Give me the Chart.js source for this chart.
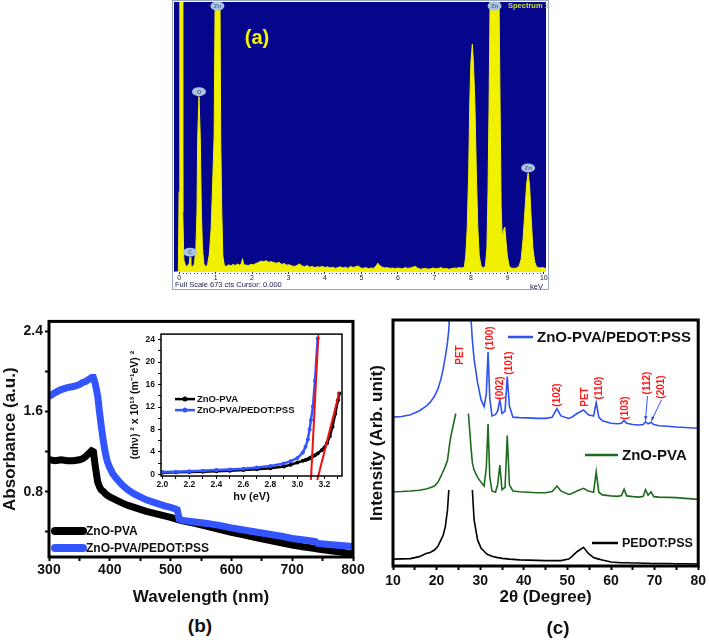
<!DOCTYPE html>
<html>
<head>
<meta charset="utf-8">
<script src="https://cdn.jsdelivr.net/npm/chart.js@4.4.1/dist/chart.umd.min.js"></script>
<style>
html,body{margin:0;padding:0;background:#fff;}
body{width:709px;height:640px;position:relative;overflow:hidden;font-family:"Liberation Sans",Arial,sans-serif;}
canvas{position:absolute;}
.plab{position:absolute;font-weight:bold;font-size:19px;color:#111;transform:translate(-50%,-50%);white-space:nowrap;}
</style>
</head>
<body>
<canvas id="cA" width="378" height="291" style="left:172px;top:0px"></canvas>
<canvas id="cB" width="368" height="300" style="left:0px;top:311px"></canvas>
<canvas id="cC" width="349" height="300" style="left:360px;top:311px"></canvas>
<canvas id="cI" width="225" height="180" style="left:127px;top:326px"></canvas>
<div class="plab" style="left:200px;top:626px">(b)</div>
<div class="plab" style="left:558px;top:628px">(c)</div>
<script>
// ================= DATA =================
// (a) EDX spectrum: energy (keV) and counts
const edxEnergy = [
  -0.14,-0.05,-0.02,0.00,0.02,0.08,0.10,0.13,0.17,0.21,
  0.25,0.28,0.30,0.32,0.36,0.42,0.46,0.49,0.51,0.545,
  0.58,0.61,0.64,0.68,0.73,0.78,0.83,0.88,0.92,0.96,
  0.99,1.12,1.14,1.17,1.20,1.24,1.30,1.36,1.42,1.48,
  1.54,1.60,1.66,1.71,1.74,1.77,1.83,1.90,1.97,2.04,
  2.11,2.18,2.25,2.32,2.39,2.46,2.53,2.60,2.67,2.74,
  2.81,2.88,2.95,3.02,3.09,3.16,3.23,3.30,3.37,3.44,
  3.51,3.58,3.65,3.72,3.79,3.86,3.93,4.00,4.07,4.14,
  4.21,4.28,4.35,4.42,4.49,4.56,4.63,4.70,4.77,4.84,
  4.91,4.98,5.05,5.12,5.19,5.26,5.33,5.40,5.45,5.50,
  5.57,5.64,5.71,5.78,5.85,5.92,5.99,6.06,6.13,6.20,
  6.27,6.34,6.41,6.48,6.55,6.62,6.69,6.76,6.83,6.90,
  6.97,7.04,7.11,7.18,7.25,7.32,7.39,7.46,7.53,7.60,
  7.67,7.74,7.82,7.86,7.90,7.94,7.97,8.00,8.04,8.07,
  8.11,8.15,8.19,8.23,8.28,8.34,8.40,8.44,8.47,8.50,
  8.53,8.77,8.80,8.83,8.86,8.90,8.93,8.96,9.00,9.05,
  9.10,9.18,9.25,9.32,9.38,9.43,9.48,9.53,9.57,9.61,
  9.65,9.70,9.75,9.80,9.88,9.96,10.06
];
const edxCounts = [
  0,0,4,200,700,700,150,30,18,14,
  17,22,37,15,12,20,60,150,337,437,
  337,150,60,20,13,18,45,110,222,337,
  700,700,337,150,40,16,14,18,15,19,
  16,20,17,22,33,19,17,16,19,18,
  21,24,27,26,28,24,26,23,22,24,
  19,21,17,18,15,14,16,20,15,13,
  16,12,14,11,13,12,14,11,13,10,
  12,9,11,13,10,12,9,14,11,13,
  15,10,9,11,8,10,9,15,22,16,
  12,10,11,9,10,8,10,9,8,11,
  9,10,12,14,9,7,8,9,7,8,
  10,8,9,11,8,9,7,8,10,9,
  11,10,12,40,110,250,421,521,568,521,
  421,250,110,40,15,10,15,60,200,421,
  700,700,421,160,85,105,112,80,40,15,
  10,9,10,14,32,80,150,220,247,215,
  140,60,25,13,10,11,9
];
const edxFullScale = 673;
const edxPeakLabels = ['Zn','O','C','Zn','Zn'];
const edxPeakEnergy = [1.05, 0.545, 0.30, 8.65, 9.57];
const edxPeakCounts = [700, 437, 37, 700, 247];

// (b) UV-vis absorbance
const wavelength = [
  300,310,320,330,340,350,355,360,365,370,
  373,376,380,383,386,390,393,396,400,405,
  410,420,430,440,450,460,470,480,490,500,
  508,511,514,520,540,560,580,600,620,640,
  660,680,700,720,738,742,760,780,800
];
const absZnoPva = [
  1.12,1.11,1.12,1.11,1.11,1.12,1.13,1.15,1.18,1.21,
  1.20,1.06,0.90,0.85,0.82,0.80,0.78,0.765,0.75,0.735,
  0.72,0.69,0.665,0.645,0.625,0.605,0.59,0.575,0.56,0.545,
  0.53,0.525,0.52,0.51,0.485,0.455,0.425,0.395,0.37,0.345,
  0.32,0.295,0.27,0.25,0.235,0.23,0.215,0.20,0.18
];
const absZnoPvaPedot = [
  1.75,1.79,1.82,1.84,1.85,1.87,1.89,1.90,1.92,1.94,
  1.94,1.88,1.76,1.60,1.45,1.28,1.18,1.10,1.04,0.98,
  0.94,0.87,0.82,0.78,0.75,0.72,0.70,0.68,0.66,0.645,
  0.63,0.62,0.53,0.515,0.50,0.485,0.465,0.44,0.42,0.40,
  0.38,0.36,0.335,0.32,0.305,0.285,0.275,0.265,0.255
];
const seriesNamesB = ['ZnO-PVA','ZnO-PVA/PEDOT:PSS'];

// (b) inset Tauc plot
const photonEnergy = [
  2.00,2.10,2.20,2.30,2.40,2.50,2.60,2.70,2.80,2.90,
  2.95,3.00,3.04,3.06,3.077,3.09,3.10,3.115,3.13,3.15,
  3.18,3.20,3.22,3.24,3.26,3.28,3.30,3.31
];
const taucZnoPva = [
  0.3,0.35,0.4,0.47,0.55,0.65,0.75,0.9,1.1,1.4,
  1.7,2.1,2.4,2.55,2.7,2.85,3.0,3.2,3.4,3.7,
  4.3,4.8,5.6,6.8,8.5,10.8,13.2,14.4
];
const taucZnoPvaPedot = [
  0.4,0.47,0.55,0.65,0.75,0.87,1.0,1.2,1.5,1.95,
  2.35,2.9,3.9,4.9,6.2,8.0,9.7,12.1,16.7,24.2,
  null,null,null,null,null,null,null,null
];
const fitPedotX = [3.10, 3.155];
const fitPedotY = [-1.0, 24.8];
const fitZnoX = [3.147, 3.31];
const fitZnoY = [-1.0, 14.6];

// (c) XRD patterns
const twoTheta = [
  10,12,14,16,17.6,18.5,19.5,20.3,21,21.5,
  22,22.5,22.8,22.9,23.3,24.4,25.5,27.3,27.9,28.2,
  28.6,29.4,30.2,30.9,31.4,31.8,32.2,32.7,33.5,34.0,
  34.5,35.0,35.7,36.2,36.7,37.5,39,41,43,45,
  46.5,47.6,48.5,50.3,51,52.2,53.7,54.8,56.0,56.6,
  57.2,58,60,61.5,62.4,63,63.6,65,66.5,67.4,
  67.9,68.5,69.2,69.8,71,73,75,77,80
];
const xrdComposite = [
  60.5,60.8,61.5,63,65,66.5,69,72,76,80,
  85,91,96,100,null,null,null,null,100,92,
  84,74.5,67.5,64.8,70,87,68,61,61.5,63,
  67.5,62,63,77,65,60.5,60.3,60.2,60,60,
  60.5,64,61,60,60.5,62,63.4,61.5,61,66.4,
  60.5,59,58,57.8,58,59.2,58,57.5,57.3,57.5,
  58.6,57.8,58.4,57.5,57,56.8,56.5,56.3,56
];
const xrdZnoPva = [
  30.2,30.3,30.5,30.8,31.3,31.8,32.5,34,36.5,38.5,
  40.5,43,47,48.5,53,62,null,62,48,42,
  39,36,34,32.5,40,57.7,36,30.5,30,33,
  41,31,32,53,33,30.5,30.2,30,29.8,29.8,
  30.3,32.5,30.5,29.1,29.5,30.5,31.6,30.5,30,38.3,
  30,28.9,28.5,28.3,28.6,31.2,28.5,28.2,28,28.3,
  31,28.8,30.1,28.2,28,27.9,27.8,27.5,27.1
];
const xrdPedot = [
  2.8,2.9,3.0,3.8,5.1,5.5,6.5,8,10.6,12.5,
  16,22.8,30.9,null,null,null,null,null,null,30.9,
  18.7,10.6,7.2,6,5,4.6,4.4,4,3.6,3.4,
  3.3,3.1,3,2.9,2.8,2.7,2.5,2.4,2.3,2.2,
  2.2,2.2,2.2,2.8,3.8,5.8,7.6,5.1,3.4,3.1,
  2.8,2.4,1.6,1.4,1.3,1.3,1.3,1.2,1.2,1.1,
  1.1,1.1,1.0,1.0,1.0,1.0,0.9,0.9,0.8
];
const seriesNamesC = ['ZnO-PVA/PEDOT:PSS','ZnO-PVA','PEDOT:PSS'];
const hklLabels = ['PET','(100)','(002)','(101)','(102)','PET','(110)','(103)','(112)','(201)'];
const hklPeaks  = [25.5, 31.8, 34.5, 36.2, 47.6, 53.7, 56.6, 63.0, 67.9, 69.2];

// ================= CHARTS =================
const FF = '"Liberation Sans", Arial, sans-serif';
Chart.defaults.font.family = FF;
Chart.defaults.color = '#000';
Chart.defaults.animation = false;
const pts = (xs, ys) => xs.map((v,i)=>({x:v, y:ys[i]}));

// ---------- (a) ----------
const edxPlugin = {
  id:'edx',
  beforeDraw(chart){
    const {ctx, chartArea:a, width, height} = chart;
    ctx.save();
    ctx.fillStyle='#fff'; ctx.fillRect(0,0,width,height);
    ctx.fillStyle='#06068c'; ctx.fillRect(a.left,a.top,a.right-a.left,a.bottom-a.top);
    ctx.restore();
  },
  afterDraw(chart){
    const {ctx, chartArea:a, width, height, scales:{x,y}} = chart;
    ctx.save();
    ctx.fillStyle='#404060';
    for(let i=0;i<=100;i++){
      const px = Math.round(x.getPixelForValue(i/10));
      if (i%10) ctx.fillRect(px, a.bottom+1, 1, 1);
    }
    edxPeakLabels.forEach((t,i)=>{
      const px = x.getPixelForValue(edxPeakEnergy[i]);
      const py = Math.max(a.top+4, y.getPixelForValue(edxPeakCounts[i]) - 5);
      ctx.beginPath(); ctx.ellipse(px, py, 7, 4.5, 0, 0, Math.PI*2);
      ctx.fillStyle='#a9c3e3'; ctx.fill();
      ctx.fillStyle='#5a6e98'; ctx.font='bold 6px '+FF;
      ctx.textAlign='center'; ctx.textBaseline='middle';
      ctx.fillText(t, px, py+0.5);
    });
    ctx.fillStyle='#f4f400'; ctx.font='bold 20px '+FF;
    ctx.textAlign='center'; ctx.textBaseline='middle';
    ctx.fillText('(a)', 85, 38);
    ctx.fillStyle='#c8e03c'; ctx.font='bold 7.5px '+FF; ctx.textAlign='left';
    ctx.fillText('Spectrum 1', 336, 6);
    ctx.fillStyle='#202050'; ctx.font='7.5px '+FF;
    ctx.fillText('Full Scale '+edxFullScale+' cts Cursor: 0.000', 3, 285);
    ctx.textAlign='right'; ctx.fillText('keV', 371, 286.5);
    ctx.strokeStyle='#9aa6c8'; ctx.lineWidth=1;
    ctx.strokeRect(0.5,0.5,width-2,height-2);
    ctx.restore();
  }
};
new Chart(document.getElementById('cA'), {
  type:'line',
  data:{datasets:[{data:pts(edxEnergy, edxCounts), borderColor:'#f0f000', backgroundColor:'#f0f000',
    borderWidth:1, fill:'origin', pointRadius:0, tension:0}]},
  options:{
    responsive:false, animation:false,
    layout:{padding:{left:2,right:4,top:2,bottom:0}},
    plugins:{legend:{display:false}, tooltip:{enabled:false}},
    scales:{
      x:{type:'linear', min:-0.14, max:10.06, afterFit:s=>{s.height=19;},
        ticks:{stepSize:1, includeBounds:false, autoSkip:false, maxRotation:0,
          font:{size:7}, color:'#202040', padding:0, callback:v=>String(Math.round(v))},
        grid:{display:true, drawOnChartArea:false, drawTicks:true, tickLength:2, color:'#303050', tickWidth:1},
        border:{display:false}},
      y:{display:false, min:0, max:edxFullScale}
    }
  },
  plugins:[edxPlugin]
});

// ---------- (b) ----------
const frameB = {
  id:'frameB',
  afterDraw(chart){
    const {ctx, chartArea:a} = chart;
    ctx.save();
    ctx.strokeStyle='#000'; ctx.lineWidth=3;
    ctx.strokeRect(a.left, a.top, a.right-a.left, a.bottom-a.top);
    const ds = chart.data.datasets;
    [0,1].forEach((k,i)=>{
      const yy = a.bottom - 26 + i*17;
      ctx.strokeStyle = ds[k].borderColor; ctx.lineWidth = 8; ctx.lineCap='round';
      ctx.beginPath(); ctx.moveTo(a.left+6, yy); ctx.lineTo(a.left+34, yy); ctx.stroke();
      ctx.fillStyle='#111'; ctx.font='bold 12px '+FF; ctx.textAlign='left'; ctx.textBaseline='middle';
      ctx.fillText(ds[k].label, a.left+37, yy+0.5);
    });
    ctx.restore();
  }
};
new Chart(document.getElementById('cB'), {
  type:'line',
  data:{datasets:[
    {label:seriesNamesB[0], data:pts(wavelength, absZnoPva), borderColor:'#000', borderWidth:7,
      pointRadius:0, tension:0, order:1},
    {label:seriesNamesB[1], data:pts(wavelength, absZnoPvaPedot), borderColor:'#3355ff', borderWidth:7,
      pointRadius:0, tension:0, order:0}
  ]},
  options:{
    responsive:false, animation:false,
    layout:{padding:{left:0,right:15,top:10,bottom:0}},
    plugins:{legend:{display:false}, tooltip:{enabled:false}},
    scales:{
      x:{type:'linear', min:300, max:800, afterFit:s=>{s.height=54;},
        ticks:{stepSize:50, includeBounds:false, autoSkip:false, maxRotation:0, padding:1,
          font:{size:14, weight:'bold'}, color:'#111', callback:v=>(v%100===0? String(v):'')},
        grid:{drawOnChartArea:false, drawTicks:true, tickLength:4, tickWidth:2, color:'#000'},
        border:{display:false},
        title:{display:true, text:'Wavelength (nm)', font:{size:17, weight:'bold'}, color:'#111', padding:{top:0,bottom:3}}},
      y:{type:'linear', min:0.15, max:2.5, afterFit:s=>{s.width=49;},
        ticks:{stepSize:0.4, includeBounds:false, autoSkip:false, padding:2,
          font:{size:14, weight:'bold'}, color:'#111',
          callback:v=>(Math.abs(v/0.8-Math.round(v/0.8))<1e-6 ? v.toFixed(1):'')},
        grid:{drawOnChartArea:false, drawTicks:true, tickLength:4, tickWidth:2, color:'#000'},
        border:{display:false},
        title:{display:true, text:'Absorbance (a.u.)', font:{size:17, weight:'bold'}, color:'#111', padding:{top:0,bottom:0}}}
    }
  },
  plugins:[frameB]
});

// ---------- (b) inset ----------
const frameI = {
  id:'frameI',
  afterDraw(chart){
    const {ctx, chartArea:a} = chart;
    ctx.save();
    ctx.strokeStyle='#000'; ctx.lineWidth=1.5;
    ctx.strokeRect(a.left, a.top, a.right-a.left, a.bottom-a.top);
    const ds = chart.data.datasets;
    [0,1].forEach((k,i)=>{
      const yy = a.top + 65 + i*11;
      ctx.strokeStyle = ds[k].borderColor; ctx.lineWidth = 2.5;
      ctx.beginPath(); ctx.moveTo(a.left+14, yy); ctx.lineTo(a.left+34, yy); ctx.stroke();
      ctx.fillStyle = ds[k].borderColor;
      ctx.beginPath(); ctx.arc(a.left+24, yy, 2.5, 0, Math.PI*2); ctx.fill();
      ctx.fillStyle='#111'; ctx.font='bold 9.5px '+FF; ctx.textAlign='left'; ctx.textBaseline='middle';
      ctx.fillText(ds[k].label, a.left+36, yy+0.5);
    });
    ctx.restore();
  }
};
new Chart(document.getElementById('cI'), {
  type:'line',
  data:{datasets:[
    {label:seriesNamesB[0], data:pts(photonEnergy, taucZnoPva), borderColor:'#000', backgroundColor:'#000',
      borderWidth:2.5, pointRadius:2, pointBorderWidth:0, tension:0, order:3},
    {label:seriesNamesB[1], data:pts(photonEnergy, taucZnoPvaPedot), borderColor:'#3355ff', backgroundColor:'#3355ff',
      borderWidth:2.5, pointRadius:2, pointBorderWidth:0, tension:0, order:2},
    {label:'fit1', data:pts(fitPedotX, fitPedotY), borderColor:'#ee1111', borderWidth:2, pointRadius:0, clip:false, order:0},
    {label:'fit2', data:pts(fitZnoX, fitZnoY), borderColor:'#ee1111', borderWidth:2, pointRadius:0, clip:false, order:1}
  ]},
  options:{
    responsive:false, animation:false,
    layout:{padding:{left:0,right:10,top:8,bottom:0}},
    plugins:{legend:{display:false}, tooltip:{enabled:false}},
    scales:{
      x:{type:'linear', min:1.99, max:3.33, afterFit:s=>{s.height=30;},
        ticks:{stepSize:0.1, includeBounds:false, autoSkip:false, maxRotation:0, padding:1,
          font:{size:8.5, weight:'bold'}, color:'#111',
          callback:v=>(Math.round(v*10)%2===0 ? v.toFixed(1):'')},
        grid:{drawOnChartArea:false, drawTicks:true, tickLength:3, tickWidth:1, color:'#000'},
        border:{display:false},
        title:{display:true, text:'hν (eV)', font:{size:11, weight:'bold'}, color:'#111', padding:{top:0,bottom:2}}},
      y:{type:'linear', min:-0.3, max:25, afterFit:s=>{s.width=34;},
        ticks:{stepSize:2, includeBounds:false, autoSkip:false, padding:3,
          font:{size:8.5, weight:'bold'}, color:'#111',
          callback:v=>(Math.round(v)%4===0 ? String(Math.round(v)):'')},
        grid:{drawOnChartArea:false, drawTicks:true, tickLength:3, tickWidth:1, color:'#000'},
        border:{display:false},
        title:{display:true, text:'(αhν) ² x 10¹³ (m⁻¹eV) ²', font:{size:10.5, weight:'bold'}, color:'#111', padding:{top:2,bottom:0}}}
    }
  },
  plugins:[frameI]
});

// ---------- (c) ----------
const hklLayout = { // label centre offsets in px relative to peak x, and label centre y (px from chart top)
  dx:[0, 2.6, 0, 1.8, 0.8, 1.7, 3, 1, 2, 10.3],
  yc:[35, 18, 68, 43, 75, 77, 68, 88, 63, 67]
};
const frameC = {
  id:'frameC',
  afterDraw(chart){
    const {ctx, chartArea:a, scales:{x,y}} = chart;
    ctx.save();
    ctx.strokeStyle='#000'; ctx.lineWidth=3;
    ctx.strokeRect(a.left, a.top, a.right-a.left, a.bottom-a.top);
    ctx.fillStyle='#ff1a1a'; ctx.font='bold 10px '+FF; ctx.textAlign='center'; ctx.textBaseline='middle';
    hklLabels.forEach((t,i)=>{
      const px = x.getPixelForValue(hklPeaks[i]) + hklLayout.dx[i];
      const py = a.top + hklLayout.yc[i];
      ctx.save(); ctx.translate(px, py); ctx.rotate(-Math.PI/2); ctx.fillText(t, 0, 0); ctx.restore();
    });
    ctx.strokeStyle='#2f52f0'; ctx.fillStyle='#2f52f0'; ctx.lineWidth=1;
    [8,9].forEach(i=>{
      const sx = x.getPixelForValue(hklPeaks[i]) + hklLayout.dx[i];
      const sy = a.top + hklLayout.yc[i] + 13;
      const idx = twoTheta.indexOf(hklPeaks[i]);
      const ex = x.getPixelForValue(hklPeaks[i]);
      const ey = y.getPixelForValue(xrdComposite[idx]) - 1;
      ctx.beginPath(); ctx.moveTo(sx, sy); ctx.lineTo(ex, ey); ctx.stroke();
      const ang = Math.atan2(ey-sy, ex-sx);
      ctx.beginPath(); ctx.moveTo(ex, ey);
      ctx.lineTo(ex - 5*Math.cos(ang-0.35), ey - 5*Math.sin(ang-0.35));
      ctx.lineTo(ex - 5*Math.cos(ang+0.35), ey - 5*Math.sin(ang+0.35));
      ctx.closePath(); ctx.fill();
    });
    const ds = chart.data.datasets;
    const L = [
      {k:0, x0:148, x1:173, y:26, tx:177, fs:15},
      {k:1, x0:225, x1:258, y:144, tx:262, fs:15},
      {k:2, x0:232, x1:258, y:232, tx:262, fs:12.5}
    ];
    L.forEach(o=>{
      ctx.strokeStyle = ds[o.k].borderColor; ctx.lineWidth=2.5;
      ctx.beginPath(); ctx.moveTo(o.x0, o.y); ctx.lineTo(o.x1, o.y); ctx.stroke();
      ctx.fillStyle='#111'; ctx.font='bold '+o.fs+'px '+FF; ctx.textAlign='left'; ctx.textBaseline='middle';
      ctx.fillText(ds[o.k].label, o.tx, o.y+0.5);
    });
    ctx.restore();
  }
};
new Chart(document.getElementById('cC'), {
  type:'line',
  data:{datasets:[
    {label:seriesNamesC[0], data:pts(twoTheta, xrdComposite), borderColor:'#2f52f0', borderWidth:1.6, pointRadius:0, tension:0},
    {label:seriesNamesC[1], data:pts(twoTheta, xrdZnoPva), borderColor:'#1e6b1e', borderWidth:1.6, pointRadius:0, tension:0},
    {label:seriesNamesC[2], data:pts(twoTheta, xrdPedot), borderColor:'#000', borderWidth:1.6, pointRadius:0, tension:0}
  ]},
  options:{
    responsive:false, animation:false,
    layout:{padding:{left:0,right:9,top:9,bottom:0}},
    plugins:{legend:{display:false}, tooltip:{enabled:false}},
    scales:{
      x:{type:'linear', min:10, max:80, afterFit:s=>{s.height=45;},
        ticks:{stepSize:5, includeBounds:false, autoSkip:false, maxRotation:0, padding:3,
          font:{size:14, weight:'bold'}, color:'#111', callback:v=>(v%10===0? String(v):'')},
        grid:{drawOnChartArea:false, drawTicks:true, tickLength:4, tickWidth:2, color:'#000'},
        border:{display:false},
        title:{display:true, text:'2θ (Degree)', font:{size:17, weight:'bold'}, color:'#111', padding:{top:0,bottom:3}}},
      y:{type:'linear', min:0, max:100, afterFit:s=>{s.width=33;},
        ticks:{display:false}, grid:{display:false}, border:{display:false},
        title:{display:true, text:'Intensity (Arb. unit)', font:{size:17, weight:'bold'}, color:'#111', padding:{top:7,bottom:0}}}
    }
  },
  plugins:[frameC]
});
</script>
</body>
</html>
